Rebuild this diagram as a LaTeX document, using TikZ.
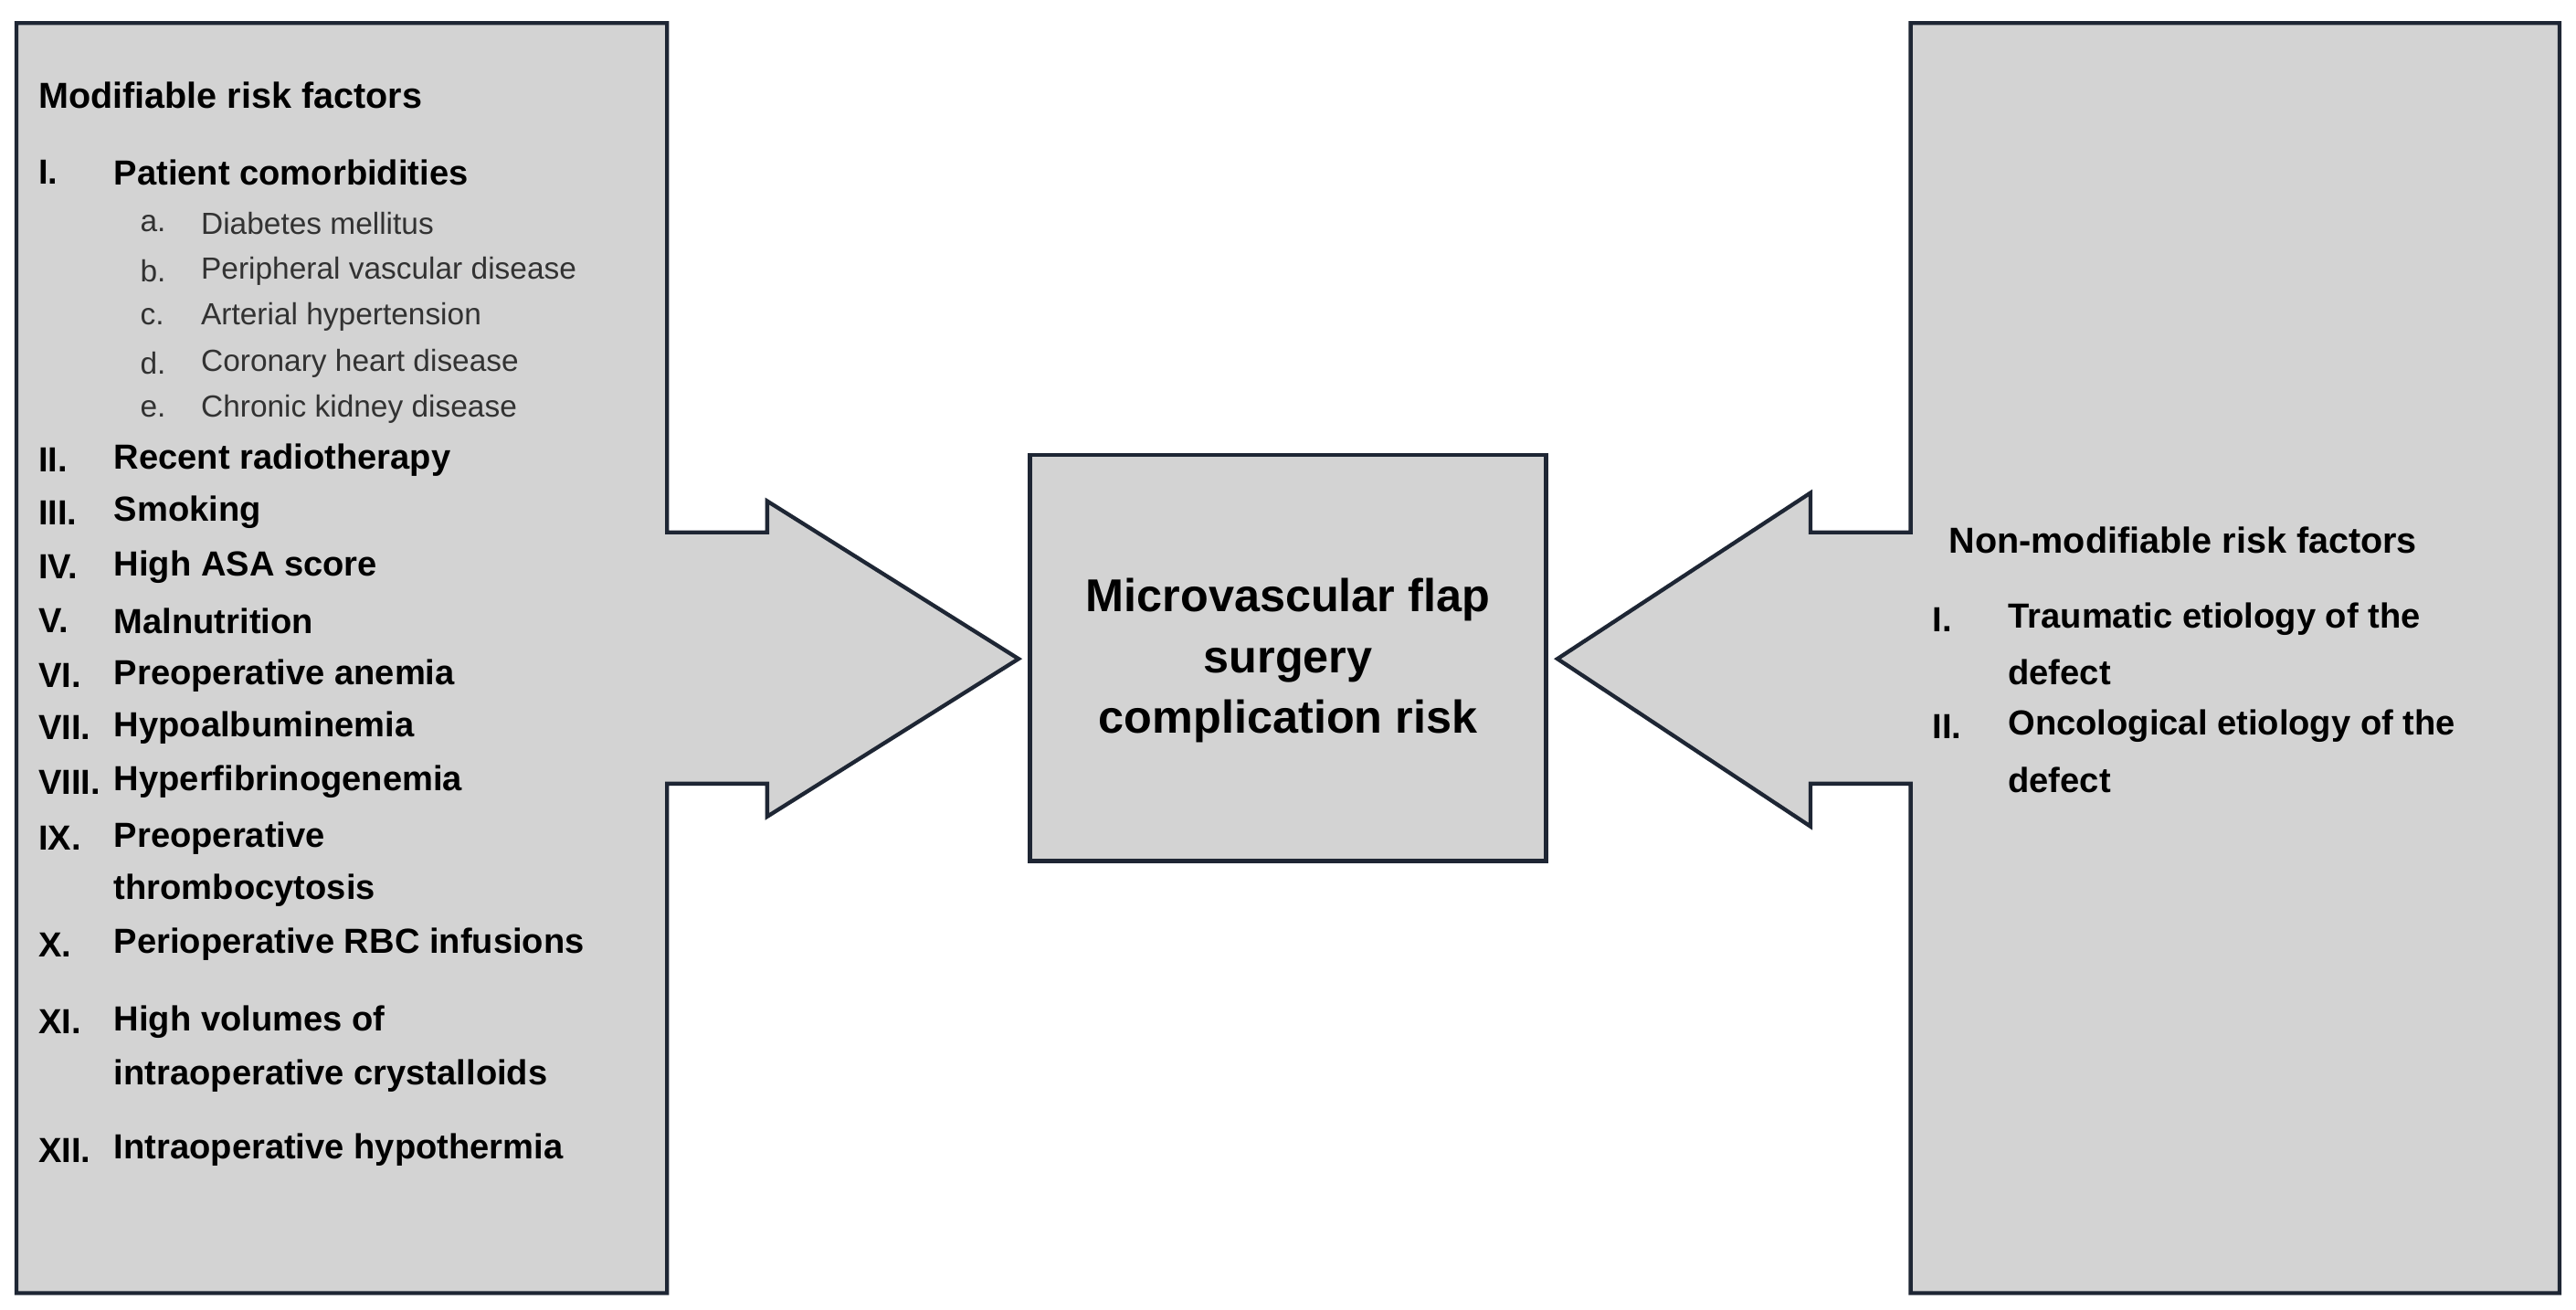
\documentclass[tikz,border=0pt]{standalone}
\usepackage{fontspec}
\setmainfont{Liberation Sans}
\begin{document}
\begin{tikzpicture}[x=0.5pt,y=-0.5pt,
  shp/.style={fill={rgb,255:red,211;green,211;blue,211},draw={rgb,255:red,30;green,38;blue,52},line width=1.2pt},
  hd/.style={anchor=west,font=\bfseries\fontsize{11}{13}\selectfont,inner sep=0},
  it/.style={anchor=west,font=\bfseries\fontsize{10.6}{13}\selectfont,inner sep=0},
  sb/.style={anchor=west,font=\fontsize{9.3}{11}\selectfont,text={rgb,255:red,50;green,50;blue,50},inner sep=0}]
\useasboundingbox (0,0) rectangle (1568,797);
\draw[shp] (10,14) -- (406,14) -- (406,324) -- (467,324) -- (467,305) -- (620,401) -- (467,497) -- (467,477) -- (406,477) -- (406,787) -- (10,787) -- cycle;
\draw[shp] (1558,14) -- (1163,14) -- (1163,324) -- (1102,324) -- (1102,300) -- (948,401) -- (1102,503) -- (1102,477) -- (1163,477) -- (1163,787) -- (1558,787) -- cycle;
\node[shp,minimum width=157pt,minimum height=123.5pt,inner sep=0] (c) at (784,400.5) {};
\node[align=center,font=\bfseries\fontsize{14}{18.5}\selectfont] (ct) at (784,402) {Microvascular flap\\surgery\\complication risk};
\node[hd] (t) at (23,58) {Modifiable risk factors};
\foreach \n/\y/\txt in {a/105/I.,b/280/II.,c2/312/III.,d/345/IV.,e/378/V.,f/411/VI.,g/443/VII.,h/476/VIII.,i/510/IX.,j/575/X.,k/622/XI.,l/700/XII.}
  \node[it] (n\n) at (23,\y) {\txt};
\foreach \n/\y/\txt in {a/105/Patient comorbidities,b/280/Recent radiotherapy,c2/312/Smoking,d/345/High ASA score,e/378/Malnutrition,f/411/Preoperative anemia,g/443/Hypoalbuminemia,h/476/Hyperfibrinogenemia,i/510/Preoperative,i2/542/thrombocytosis,j/575/Perioperative RBC infusions,k/622/High volumes of,k2/655/intraoperative crystalloids,l/700/Intraoperative hypothermia}
  \node[it] (m\n) at (69,\y) {\txt};
\foreach \n/\y/\l/\txt in {a/136/a./Diabetes mellitus,b/165/b./Peripheral vascular disease,c/193/c./Arterial hypertension,d/221/d./Coronary heart disease,e/249/e./Chronic kidney disease}{
  \node[sb] (s\n) at (85,\y) {\l};
  \node[sb] (r\n) at (122,\y) {\txt};}
\node[hd] (t2) at (1186,329) {Non-modifiable risk factors};
\node[it] (p1) at (1176,377) {I.};
\node[it] (q1) at (1222,377) {Traumatic etiology of the};
\node[it] (q1b) at (1222,409) {defect};
\node[it] (p2) at (1176,442) {II.};
\node[it] (q2) at (1222,442) {Oncological etiology of the};
\node[it] (q2b) at (1222,475) {defect};
\end{tikzpicture}
\end{document}
